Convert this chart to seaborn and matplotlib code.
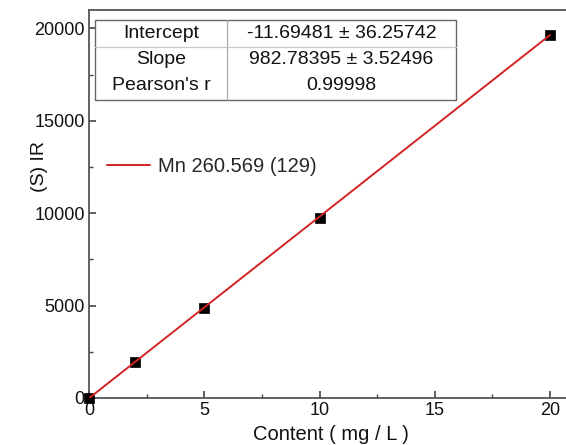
import numpy as np
import pandas as pd
import matplotlib
matplotlib.use("Agg")
import matplotlib.pyplot as plt
from matplotlib.lines import Line2D
import seaborn as sns

# Calibration standards for Mn 260.569 nm
content = [0, 2, 5, 10, 20]            # mg / L
intensity = [-5, 1960, 4855, 9745, 19670]

# Linear fit results
intercept = -11.69481
intercept_err = 36.25742
slope = 982.78395
slope_err = 3.52496
pearson_r = 0.99998

series_label = "Mn 260.569 (129)"
x_label = "Content ( mg / L )"
y_label = "(S) IR"
x_ticks = [0, 5, 10, 15, 20]
y_ticks = [0, 5000, 10000, 15000, 20000]

sns.set_theme(style="ticks")
plt.rcParams["font.family"] = ["Liberation Sans", "DejaVu Sans"]

W, H = 566, 445
fig = plt.figure(figsize=(W / 100, H / 100), dpi=100)

def fx(px):
    return px / W

def fy(py):
    return 1 - py / H

# axes: x=0 at px 89, bottom at px 398, top at px 10, 23.05 px per unit in x
x_max = 21.0
ax_left, ax_bottom, ax_top = 89, 398, 10
ax_w = 23.05 * x_max
ax = fig.add_axes([fx(ax_left), fy(ax_bottom), ax_w / W, (ax_bottom - ax_top) / H])

df = pd.DataFrame({"content": content, "intensity": intensity})
sns.scatterplot(data=df, x="content", y="intensity", marker="s", s=44,
                color="black", edgecolor="black", linewidth=0.5, ax=ax, zorder=3,
                clip_on=False)

fit_x = np.array([content[0], content[-1]], dtype=float)
fit_df = pd.DataFrame({"content": fit_x, "fit": intercept + slope * fit_x})
sns.lineplot(data=fit_df, x="content", y="fit", color="#d42424", linewidth=1.4,
             ax=ax, zorder=4, legend=False)

ax.set_xlim(0, x_max)
ax.set_ylim(0, 21000)
ax.set_xticks(x_ticks)
ax.set_yticks(y_ticks)
ax.set_xticks([2.5, 7.5, 12.5, 17.5], minor=True)
ax.set_yticks([2500, 7500, 12500, 17500], minor=True)
ax.tick_params(which="major", direction="in", length=5, width=1.2, color="#444444",
               labelsize=13, labelcolor="#111111", pad=3)
ax.tick_params(which="minor", direction="in", length=3, width=1.0, color="#444444")
ax.tick_params(axis="x", which="both", top=False)
ax.tick_params(axis="y", which="both", right=False)
ax.tick_params(axis="x", pad=3)
for side in ["left", "bottom", "top", "right"]:
    ax.spines[side].set_color("#555555")
    ax.spines[side].set_linewidth(1.3)

ax.set_xlabel("")
ax.set_ylabel("")
fig.text(fx(331), fy(434), x_label, ha="center", va="center", fontsize=14.5, color="#111111")
fig.text(fx(39), fy(167), y_label, ha="center", va="center", rotation=90,
         fontsize=14, color="#111111")

# legend entry
handle = Line2D([], [], color="#d42424", linewidth=1.4)
fig.legend([handle], [series_label], loc="center left",
           bbox_to_anchor=(fx(107), fy(167)), frameon=False, fontsize=14.5,
           handlelength=2.15, handletextpad=0.4, borderpad=0, borderaxespad=0)

# fit results table
t_left, t_mid, t_right = 95, 227, 456
t_top, t_row, t_bottom = 20, 47, 100
table_rows = [
    ("Intercept", f"{intercept} \u00b1 {intercept_err}"),
    ("Slope", f"{slope} \u00b1 {slope_err}"),
    ("Pearson's r", f"{pearson_r}"),
]
row_centers = [33.5, 59.5, 85.5]
frame = plt.Rectangle((fx(t_left), fy(t_bottom)), fx(t_right - t_left), (t_bottom - t_top) / H,
                      transform=fig.transFigure, facecolor="white", edgecolor="#666666",
                      linewidth=1.0, zorder=5)
fig.add_artist(frame)
fig.add_artist(Line2D([fx(t_mid), fx(t_mid)], [fy(t_top), fy(t_bottom)],
                      transform=fig.transFigure, color="#aaaaaa", linewidth=0.9, zorder=6))
fig.add_artist(Line2D([fx(t_left), fx(t_right)], [fy(t_row), fy(t_row)],
                      transform=fig.transFigure, color="#c8c8c8", linewidth=0.9, zorder=6))
for (name, val), yc in zip(table_rows, row_centers):
    fig.text(fx((t_left + t_mid) / 2), fy(yc), name, ha="center", va="center",
             fontsize=14, color="#111111", zorder=7)
    fig.text(fx((t_mid + t_right) / 2), fy(yc), val, ha="center", va="center",
             fontsize=14, color="#111111", zorder=7)

fig.savefig("out.png", dpi=100)
